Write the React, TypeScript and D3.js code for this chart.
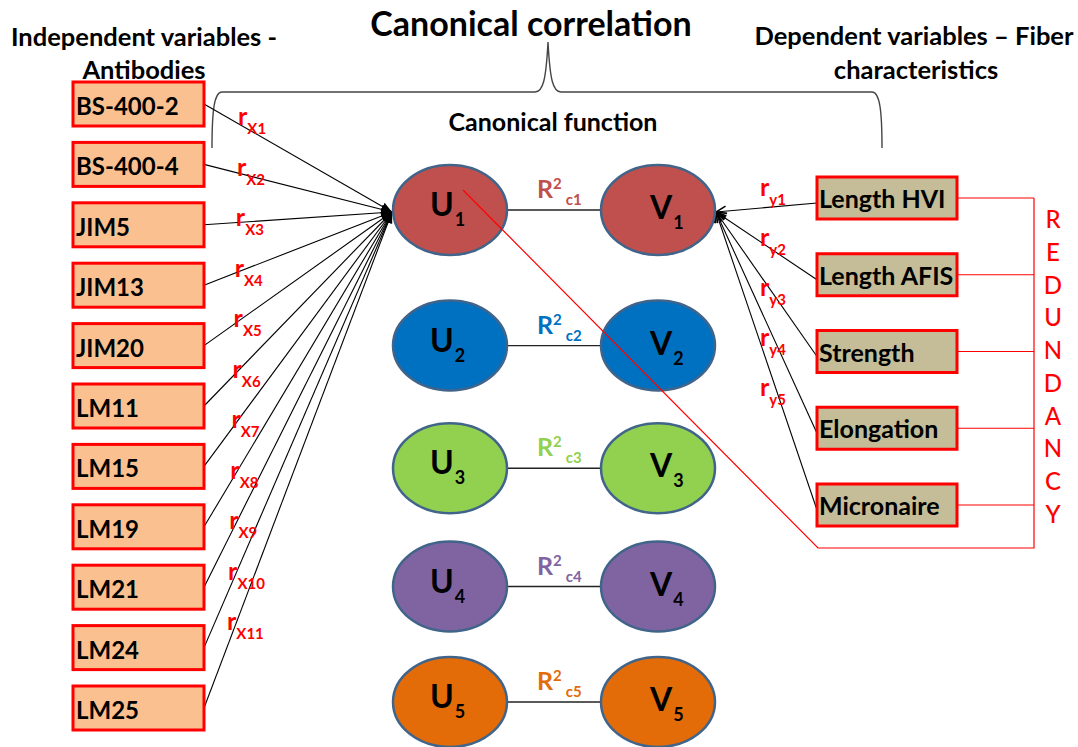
import * as d3 from 'd3';

// ---- data ----
const independentVars = ['BS-400-2', 'BS-400-4', 'JIM5', 'JIM13', 'JIM20', 'LM11', 'LM15', 'LM19', 'LM21', 'LM24', 'LM25'];
const dependentVars = ['Length HVI', 'Length AFIS', 'Strength', 'Elongation', 'Micronaire'];
const canonicalFns = [1, 2, 3, 4, 5];
const fnColors = ['#c0504d', '#0070c0', '#92d050', '#8064a2', '#e36c09'];
const redundancyLetters = 'REDUNDANCY'.split('');

const W = 1078;
const H = 747;
const FONT = 'Lato, "Open Sans", sans-serif';
const RED = '#ff0000';

export default function App() {
  // layout scales
  const leftTop = d3.scaleLinear().domain([0, independentVars.length - 1]).range([82, 686]);
  const rxLabelY = d3.scaleLinear().domain([0, independentVars.length - 1]).range([125, 630]);
  const rxLabelX = d3.scaleLinear().domain([0, independentVars.length - 1]).range([238, 227]);
  const rowY = d3.scalePow().exponent(0.93).domain([0, canonicalFns.length - 1]).range([210, 702]);
  const rightTop = d3.scaleLinear().domain([0, dependentVars.length - 1]).range([177, 484]);
  const ryLabelY = d3.scaleLinear().domain([0, dependentVars.length - 1]).range([196, 396]);
  const letterY = d3.scaleLinear().domain([0, redundancyLetters.length - 1]).range([228, 523]);

  const box = { x: 73, w: 131, h: 44 };
  const rbox = { x: 817, w: 140, h: 42 };
  const uX = 450;
  const vX = 658;
  const ell = { rx: 57, ry: 45 };
  const redX = 1034;

  const hubL: [number, number] = [uX - ell.rx - 1, rowY(0) + 2];
  const hubR: [number, number] = [vX + ell.rx + 1, rowY(0) + 2];
  const redBottom = rightTop(dependentVars.length - 1) + rbox.h + 22;

  // curly brace over the whole scheme
  const brace = d3.path();
  const bL = 212, bR = 882, bTop = 92, bBot = 148, bMid = 548, bPeak = 42;
  brace.moveTo(bL, bBot);
  brace.bezierCurveTo(bL, 112, bL + 2, bTop, bL + 10, bTop);
  brace.lineTo(bMid - 13, bTop);
  brace.bezierCurveTo(bMid - 5, bTop, bMid - 2, 80, bMid, bPeak);
  brace.bezierCurveTo(bMid + 2, 80, bMid + 5, bTop, bMid + 13, bTop);
  brace.lineTo(bR - 10, bTop);
  brace.bezierCurveTo(bR - 2, bTop, bR, 112, bR, bBot);

  const redPath = d3.line()([
    [uX + 13, rowY(0) - 20],
    [rbox.x + 1, redBottom],
    [redX, redBottom],
    [redX, rightTop(0) + 21],
  ]);

  return (
    <svg width={W} height={H} style={{ position: 'absolute', left: 0, top: 0, background: '#fff' }} fontFamily={FONT}>
      <defs>
        <marker id="arrL" viewBox="0 0 10 10" refX="10" refY="5" markerWidth="11" markerHeight="11" markerUnits="userSpaceOnUse" orient="auto">
          <path d="M0,1 L10,5 L0,9 z" fill="#000" />
        </marker>
        <marker id="arrR" viewBox="0 0 12 12" refX="11" refY="6" markerWidth="12" markerHeight="12" markerUnits="userSpaceOnUse" orient="auto">
          <path d="M1,1 L11,6 L1,11" fill="none" stroke="#000" strokeWidth={1.6} />
        </marker>
      </defs>

      {/* headings */}
      <text x={531} y={36} textAnchor="middle" fontSize={34} fontWeight={700}>Canonical correlation</text>
      <text x={144} y={46} textAnchor="middle" fontSize={25.5} fontWeight={700}>Independent variables -</text>
      <text x={144} y={79} textAnchor="middle" fontSize={25.5} fontWeight={700}>Antibodies</text>
      <text x={914} y={45} textAnchor="middle" fontSize={25.5} fontWeight={700}>Dependent variables – Fiber</text>
      <text x={916} y={79} textAnchor="middle" fontSize={25.5} fontWeight={700}>characteristics</text>
      <text x={553} y={131} textAnchor="middle" fontSize={25} fontWeight={700}>Canonical function</text>

      <path d={brace.toString()} fill="none" stroke="#444" strokeWidth={1.4} />

      {/* redundancy connectors */}
      {dependentVars.map((d, i) => (
        <line key={'rl' + d} x1={rbox.x + rbox.w} x2={redX} y1={rightTop(i) + 21} y2={rightTop(i) + 21} stroke={RED} strokeWidth={1.2} />
      ))}
      {redundancyLetters.map((c, i) => (
        <text key={'L' + i} x={1053} y={letterY(i)} textAnchor="middle" fontSize={24} fontWeight={500} fill={RED}>{c}</text>
      ))}

      {/* left arrows */}
      {independentVars.map((d, i) => (
        <line key={'a' + d} x1={box.x + box.w} y1={leftTop(i) + box.h / 2} x2={hubL[0]} y2={hubL[1]} stroke="#000" strokeWidth={1.1} markerEnd="url(#arrL)" />
      ))}
      {/* right arrows */}
      {dependentVars.map((d, i) => (
        <line key={'b' + d} x1={rbox.x} y1={rightTop(i) + 26} x2={hubR[0]} y2={hubR[1]} stroke="#000" strokeWidth={1.1} markerEnd="url(#arrR)" />
      ))}

      {/* independent variable boxes */}
      {independentVars.map((d, i) => (
        <g key={d}>
          <rect x={box.x} y={leftTop(i)} width={box.w} height={box.h} fill="#fac090" stroke={RED} strokeWidth={3} />
          <text x={box.x + 3} y={leftTop(i) + 33} fontSize={24} fontWeight={700} fill="#000">{d}</text>
          <text x={rxLabelX(i)} y={rxLabelY(i)} fill={RED} fontWeight={700}>
            <tspan fontSize={25}>r</tspan>
            <tspan fontSize={15} dy={9} dx={0}>{'X' + (i + 1)}</tspan>
          </text>
        </g>
      ))}

      {/* dependent variable boxes */}
      {dependentVars.map((d, i) => (
        <g key={d}>
          <rect x={rbox.x} y={rightTop(i)} width={rbox.w} height={rbox.h} fill="#c4bd97" stroke={RED} strokeWidth={3} />
          <text x={rbox.x + 2} y={rightTop(i) + 31} fontSize={25} fontWeight={700} fill="#000">{d}</text>
          <text x={760} y={ryLabelY(i)} fill={RED} fontWeight={700}>
            <tspan fontSize={25}>r</tspan>
            <tspan fontSize={15} dy={9}>{'y' + (i + 1)}</tspan>
          </text>
        </g>
      ))}

      {/* canonical function pairs */}
      {canonicalFns.map((n, i) => {
        const cy = rowY(i);
        const col = fnColors[i];
        return (
          <g key={'fn' + n}>
            <line x1={uX + ell.rx} x2={vX - ell.rx} y1={cy} y2={cy} stroke="#222" strokeWidth={1.3} />
            <ellipse cx={uX} cy={cy} rx={ell.rx} ry={ell.ry} fill={col} stroke="#41648a" strokeWidth={2.5} />
            <ellipse cx={vX} cy={cy} rx={ell.rx} ry={ell.ry} fill={col} stroke="#41648a" strokeWidth={2.5} />
            <text x={uX - 20} y={cy + 6} fontWeight={700} fill="#000">
              <tspan fontSize={32}>U</tspan>
              <tspan fontSize={18} dy={10} dx={1}>{n}</tspan>
            </text>
            <text x={vX - 8} y={cy + 9} fontWeight={700} fill="#000">
              <tspan fontSize={32}>V</tspan>
              <tspan fontSize={18} dy={10} dx={1}>{n}</tspan>
            </text>
            <text x={537} y={cy - 12} fontWeight={700} fill={col}>
              <tspan fontSize={25}>R</tspan>
              <tspan fontSize={15} dy={-9}>2</tspan>
              <tspan fontSize={15} dy={16} dx={4}>{'c' + n}</tspan>
            </text>
          </g>
        );
      })}

      {/* redundancy path drawn over the ellipses */}
      <path d={redPath ?? ''} fill="none" stroke={RED} strokeWidth={1.2} />
    </svg>
  );
}
